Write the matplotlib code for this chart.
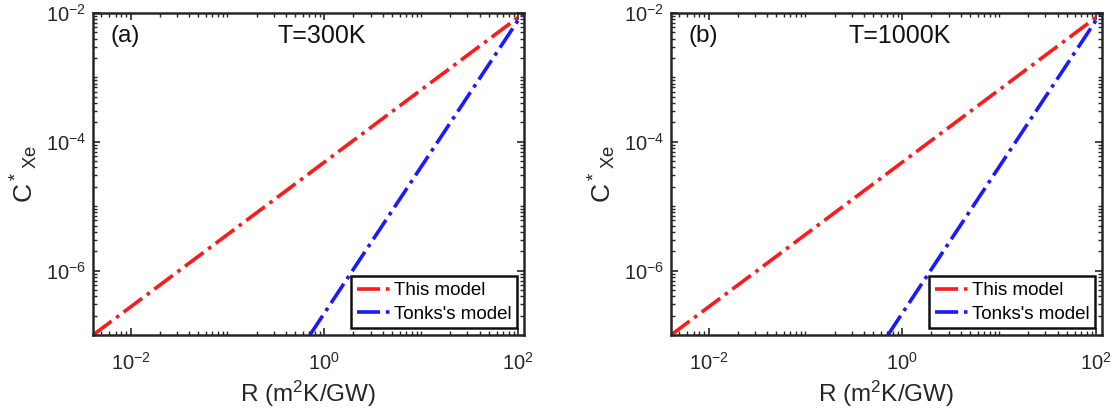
import matplotlib
matplotlib.use("Agg")
import matplotlib.pyplot as plt
from matplotlib.ticker import LogLocator, NullFormatter

plt.rcParams['font.family'] = ['Liberation Sans', 'DejaVu Sans']
plt.rcParams['mathtext.default'] = 'regular'

# Data: R (m^2K/GW) and C*_Xe endpoints of each power-law line
panel_labels = ["(a)", "(b)"]
panel_titles = ["T=300K", "T=1000K"]
this_R = [[0.0041, 115.0], [0.0041, 115.0]]
this_C = [[1e-7, 1e-2], [1e-7, 1e-2]]
tonks_R = [[0.71, 112.0], [0.71, 112.0]]
tonks_C = [[1e-7, 1e-2], [1e-7, 1e-2]]
series_names = ["This model", "Tonks's model"]
xlim = (0.0041, 115.0)
ylim = (1e-7, 1e-2)
xticks = [1e-2, 1e0, 1e2]
yticks = [1e-6, 1e-4, 1e-2]

fig = plt.figure(figsize=(11.14, 4.19), dpi=100)
lefts = [93 / 1114, 671 / 1114]
for i in range(2):
    ax = fig.add_axes([lefts[i], 84 / 419, 431 / 1114, 322 / 419])
    ax.plot(this_R[i], this_C[i], color='#ff1a1a', linestyle='-.', linewidth=2.6,
            label=series_names[0])
    ax.plot(tonks_R[i], tonks_C[i], color='#1a1aff', linestyle='-.', linewidth=2.6,
            label=series_names[1])
    ax.set_xscale('log')
    ax.set_yscale('log')
    ax.set_xlim(*xlim)
    ax.set_ylim(*ylim)
    ax.set_xticks(xticks)
    ax.set_yticks(yticks)
    ax.xaxis.set_minor_locator(LogLocator(base=10, subs=range(1, 10), numticks=50))
    ax.yaxis.set_minor_locator(LogLocator(base=10, subs=range(1, 10), numticks=50))
    ax.xaxis.set_minor_formatter(NullFormatter())
    ax.yaxis.set_minor_formatter(NullFormatter())
    ax.tick_params(which='both', direction='in', top=True, right=True, color='#262626')
    ax.tick_params(which='major', length=5, width=1.2, labelsize=14.5, colors='#262626',
                   labelcolor='#262626')
    ax.tick_params(axis='x', which='major', pad=12)
    ax.tick_params(axis='y', which='major', pad=5)
    ax.tick_params(which='minor', length=3, width=1.0)
    for s in ax.spines.values():
        s.set_linewidth(1.8)
        s.set_color('#262626')
    ax.set_xlabel('R (m$^2$K/GW)', fontsize=17.5, color='#262626', labelpad=4)
    ax.set_ylabel('C$^*$$_{Xe}$', fontsize=19, color='#262626', labelpad=4)
    ax.text(0.04, 0.93, panel_labels[i], transform=ax.transAxes, fontsize=17.5,
            va='center', ha='left', color='#111111')
    ax.text(0.53, 0.93, panel_titles[i], transform=ax.transAxes, fontsize=18,
            va='center', ha='center', color='#111111')
    leg = ax.legend(loc='lower right', fontsize=13.5, fancybox=False, framealpha=1,
                    edgecolor='#111111', handlelength=1.9, handletextpad=0.1,
                    borderaxespad=0.35, borderpad=0.3, labelspacing=0.35)
    leg.get_frame().set_linewidth(1.8)

fig.savefig('out.png', dpi=100)
